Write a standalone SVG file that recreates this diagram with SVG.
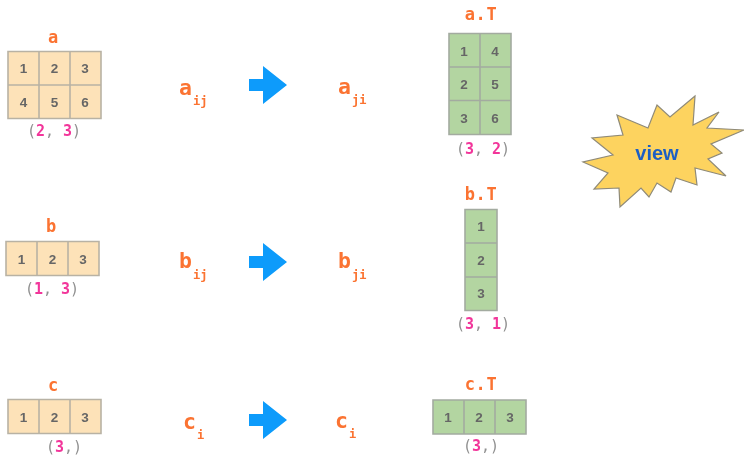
<svg xmlns="http://www.w3.org/2000/svg" xmlns:xlink="http://www.w3.org/1999/xlink" width="744" height="456" viewBox="0 0 744 456">
<style>
text{font-family:"DejaVu Sans Mono","Liberation Mono",monospace}
.o{fill:#fb7330;font-weight:bold;font-size:17px;text-anchor:middle}
.w{letter-spacing:0.600px}
.v{fill:#fb7330;font-weight:bold;font-size:21.500px}
.s{fill:#fb7330;font-weight:bold;font-size:12px}
.d{fill:#666;font-size:13.500px;font-weight:bold;text-anchor:middle;font-family:"Liberation Sans",sans-serif}
.t{fill:#919191;font-size:15px;text-anchor:middle}
.t tspan{fill:#f2359a;font-weight:bold}
.p{fill:#fde2b8;stroke:#b8b2a4;stroke-width:1.600}
.g{fill:#b3d5a1;stroke:#a3aba0;stroke-width:1.600}
.a{fill:#0a9bfb}
</style>
<defs>
<filter id="b" x="-2%" y="-2%" width="104%" height="104%"><feGaussianBlur stdDeviation="0.6"/></filter>
<path id="ar" class="a" d="M249 -6H263V-19L287 0L263 19V6H249Z"/>
</defs>
<g filter="url(#b)">
<rect width="744" height="456" fill="#fff"/>
<g id="node-a">
<text class="o" x="53" y="43">a</text>
<path class="p" d="M8 51.500h93v67h-93z M39 51.500v67 M70 51.500v67 M8 85h93"/>
<text class="d" x="23.500" y="73">1</text><text class="d" x="54.500" y="73">2</text><text class="d" x="85" y="73">3</text>
<text class="d" x="23.500" y="107">4</text><text class="d" x="54.500" y="107">5</text><text class="d" x="85" y="107">6</text>
<text class="t" x="54" y="136">(<tspan>2</tspan>, <tspan>3</tspan>)</text>
</g>
<g id="node-b">
<text class="o" x="51" y="232">b</text>
<path class="p" d="M6 241.500h93v34h-93z M37 241.500v34 M68 241.500v34"/>
<text class="d" x="21.500" y="264">1</text><text class="d" x="52.500" y="264">2</text><text class="d" x="83" y="264">3</text>
<text class="t" x="52" y="294">(<tspan>1</tspan>, <tspan>3</tspan>)</text>
</g>
<g id="node-c">
<text class="o" x="53" y="391">c</text>
<path class="p" d="M8 399.500h93v34h-93z M39 399.500v34 M70 399.500v34"/>
<text class="d" x="23.500" y="422">1</text><text class="d" x="54.500" y="422">2</text><text class="d" x="85" y="422">3</text>
<text class="t" x="64" y="452">(<tspan>3</tspan>,)</text>
</g>
<g id="node-aij"><text class="v" x="179" y="95">a</text><text class="s" x="193" y="105">ij</text></g>
<g id="node-bij"><text class="v" x="179" y="268">b</text><text class="s" x="193" y="279">ij</text></g>
<g id="node-ci"><text class="v" x="183" y="429">c</text><text class="s" x="197" y="439">i</text></g>
<g id="node-aji"><text class="v" x="338" y="94">a</text><text class="s" x="352" y="104">ji</text></g>
<g id="node-bji"><text class="v" x="338" y="268">b</text><text class="s" x="352" y="279">ji</text></g>
<g id="node-ci2"><text class="v" x="335" y="428">c</text><text class="s" x="349" y="438">i</text></g>
<g id="node-at">
<text class="o w" x="481" y="20">a.T</text>
<path class="g" d="M449 33.500h62v101h-62z M480 33.500v101 M449 67h62 M449 100.500h62"/>
<text class="d" x="464" y="56">1</text><text class="d" x="495" y="56">4</text>
<text class="d" x="464" y="89">2</text><text class="d" x="495" y="89">5</text>
<text class="d" x="464" y="123">3</text><text class="d" x="495" y="123">6</text>
<text class="t" x="483" y="154">(<tspan>3</tspan>, <tspan>2</tspan>)</text>
</g>
<g id="node-bt">
<text class="o w" x="481" y="200">b.T</text>
<path class="g" d="M465 209.500h32v101h-32z M465 243h32 M465 277h32"/>
<text class="d" x="481" y="231">1</text><text class="d" x="481" y="265">2</text><text class="d" x="481" y="298">3</text>
<text class="t" x="483" y="329">(<tspan>3</tspan>, <tspan>1</tspan>)</text>
</g>
<g id="node-ct">
<text class="o w" x="481" y="390">c.T</text>
<path class="g" d="M433 400h93v34h-93z M464 400v34 M495 400v34"/>
<text class="d" x="448" y="422">1</text><text class="d" x="479" y="422">2</text><text class="d" x="510" y="422">3</text>
<text class="t" x="481" y="451">(<tspan>3</tspan>,)</text>
</g>
<g id="node-view">
<polygon fill="#fdd35f" stroke="#8f8a78" stroke-width="1.200" points="695,96 670,117 657,105 648,128 617,115 623,135 592,138 613,155 583,162 608,173 594,189 619,188 620,207 641,188 649,197 657,183 671,192 676,178 697,185 695,168 726,176 708,159 722,153 711,144 744,130 707,128 719,112 693,125"/>
<text x="657" y="160" text-anchor="middle" style="font-family:'Liberation Sans',sans-serif;font-weight:bold;font-size:20px;fill:#1d5fc4">view</text>
</g>
<g id="connectors">
<use xlink:href="#ar" href="#ar" y="85"/>
<use xlink:href="#ar" href="#ar" y="262"/>
<use xlink:href="#ar" href="#ar" y="420"/>
</g>
</g>
</svg>
